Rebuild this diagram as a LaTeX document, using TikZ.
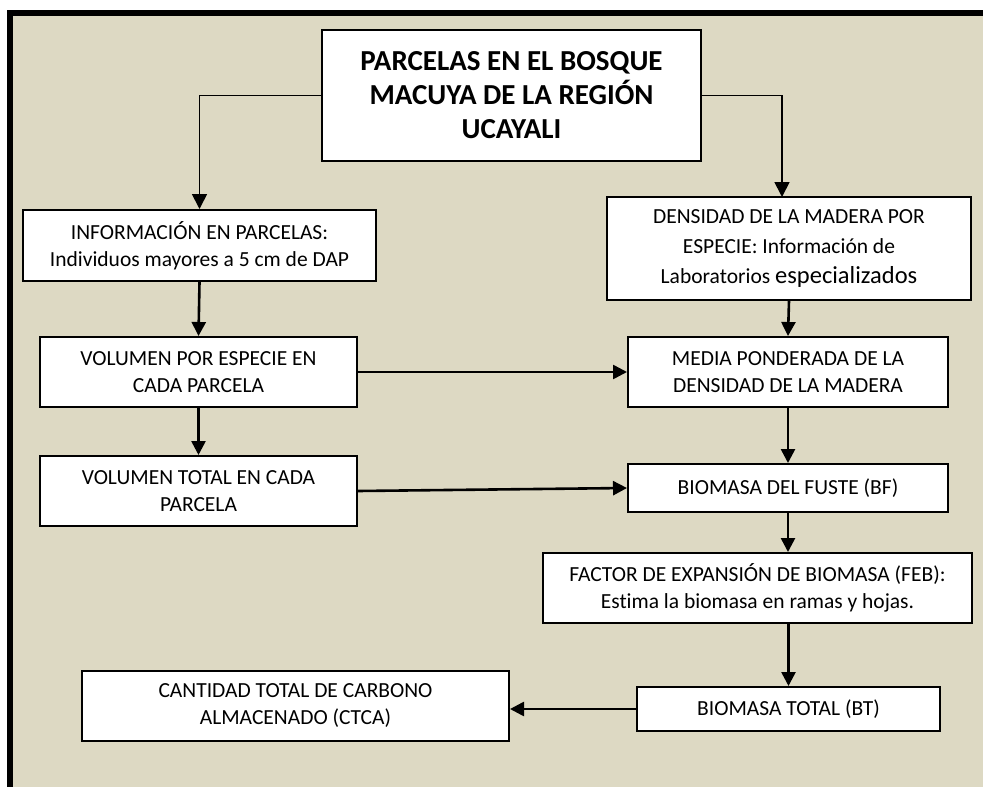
\documentclass[tikz,border=0pt]{standalone}
\usepackage{fontspec}
\setmainfont{Carlito}[Ligatures=NoCommon]
\usetikzlibrary{arrows.meta}
\definecolor{bgtan}{HTML}{DDD9C3}
\begin{document}
\begin{tikzpicture}[x=1pt,y=-1pt,
  box/.style={draw=black,line width=2pt,fill=white,rectangle,inner sep=0pt,align=center,
     font=\fontsize{21.5}{27}\selectfont},
  titlebox/.style={box,font=\fontsize{29}{34}\selectfont\bfseries},
  arr/.style={line width=2.6pt,-{Triangle[length=14pt,width=14pt]}},
  thinarr/.style={line width=1.8pt,-{Triangle[length=15pt,width=15pt]}}]
\useasboundingbox (0,0) rectangle (983,787);
\fill[white] (0,0) rectangle (983,787);
\fill[bgtan] (10,13) rectangle (983,787);
\fill[black] (7,10) rectangle (983,16);
\fill[black] (7,10) rectangle (13,787);
% nodes
\node[titlebox,minimum width=379,minimum height=131] (title) at (511.5,95.5)
  {PARCELAS EN EL BOSQUE\\MACUYA DE LA REGIÓN\\UCAYALI};
\node[box,minimum width=353,minimum height=71] (info) at (199.5,245.5)
  {INFORMACIÓN EN PARCELAS:\\Individuos mayores a 5 cm de DAP};
\node[box,minimum width=364,minimum height=103,font=\fontsize{21.5}{30}\selectfont] (dens) at (789,248.5)
  {DENSIDAD DE LA MADERA POR\\ESPECIE: Información de\\Laboratorios {\fontsize{24.5}{30}\selectfont especializados}};
\node[box,minimum width=317,minimum height=70] (vesp) at (198.5,372)
  {VOLUMEN POR ESPECIE EN\\CADA PARCELA};
\node[box,minimum width=317,minimum height=70] (vtot) at (198.5,491)
  {VOLUMEN TOTAL EN CADA\\PARCELA};
\node[box,minimum width=320,minimum height=70] (media) at (788,372)
  {MEDIA PONDERADA DE LA\\DENSIDAD DE LA MADERA};
\node[box,minimum width=320,minimum height=48] (bf) at (788,488)
  {BIOMASA DEL FUSTE (BF)};
\node[box,minimum width=429,minimum height=70] (feb) at (757.5,588)
  {FACTOR DE EXPANSIÓN DE BIOMASA (FEB):\\Estima la biomasa en ramas y hojas.};
\node[box,minimum width=303,minimum height=44] (bt) at (788.5,709)
  {BIOMASA TOTAL (BT)};
\node[box,minimum width=427,minimum height=70] (ctca) at (295.5,706)
  {CANTIDAD TOTAL DE CARBONO\\ALMACENADO (CTCA)};
% connectors
\coordinate (densin) at (782,197);
\draw[thinarr] (title.west) -| (info.north);
\draw[thinarr] (title.east) -| (densin);
\draw[arr] (info.south) -- (vesp.north);
\draw[arr] (vesp.south) -- (vtot.north);
\draw[arr] (vesp.east) -- (media.west);
\draw[arr] (dens.south) -- (media.north);
\draw[arr] (media.south) -- (bf.north);
\draw[arr] (vtot.east) -- (bf.west);
\draw[arr] (bf.south) -- (bf.south |- feb.north);
\draw[arr] (bt.north |- feb.south) -- (bt.north);
\draw[arr] (bt.west) -- (bt.west -| ctca.east);
\end{tikzpicture}
\end{document}
